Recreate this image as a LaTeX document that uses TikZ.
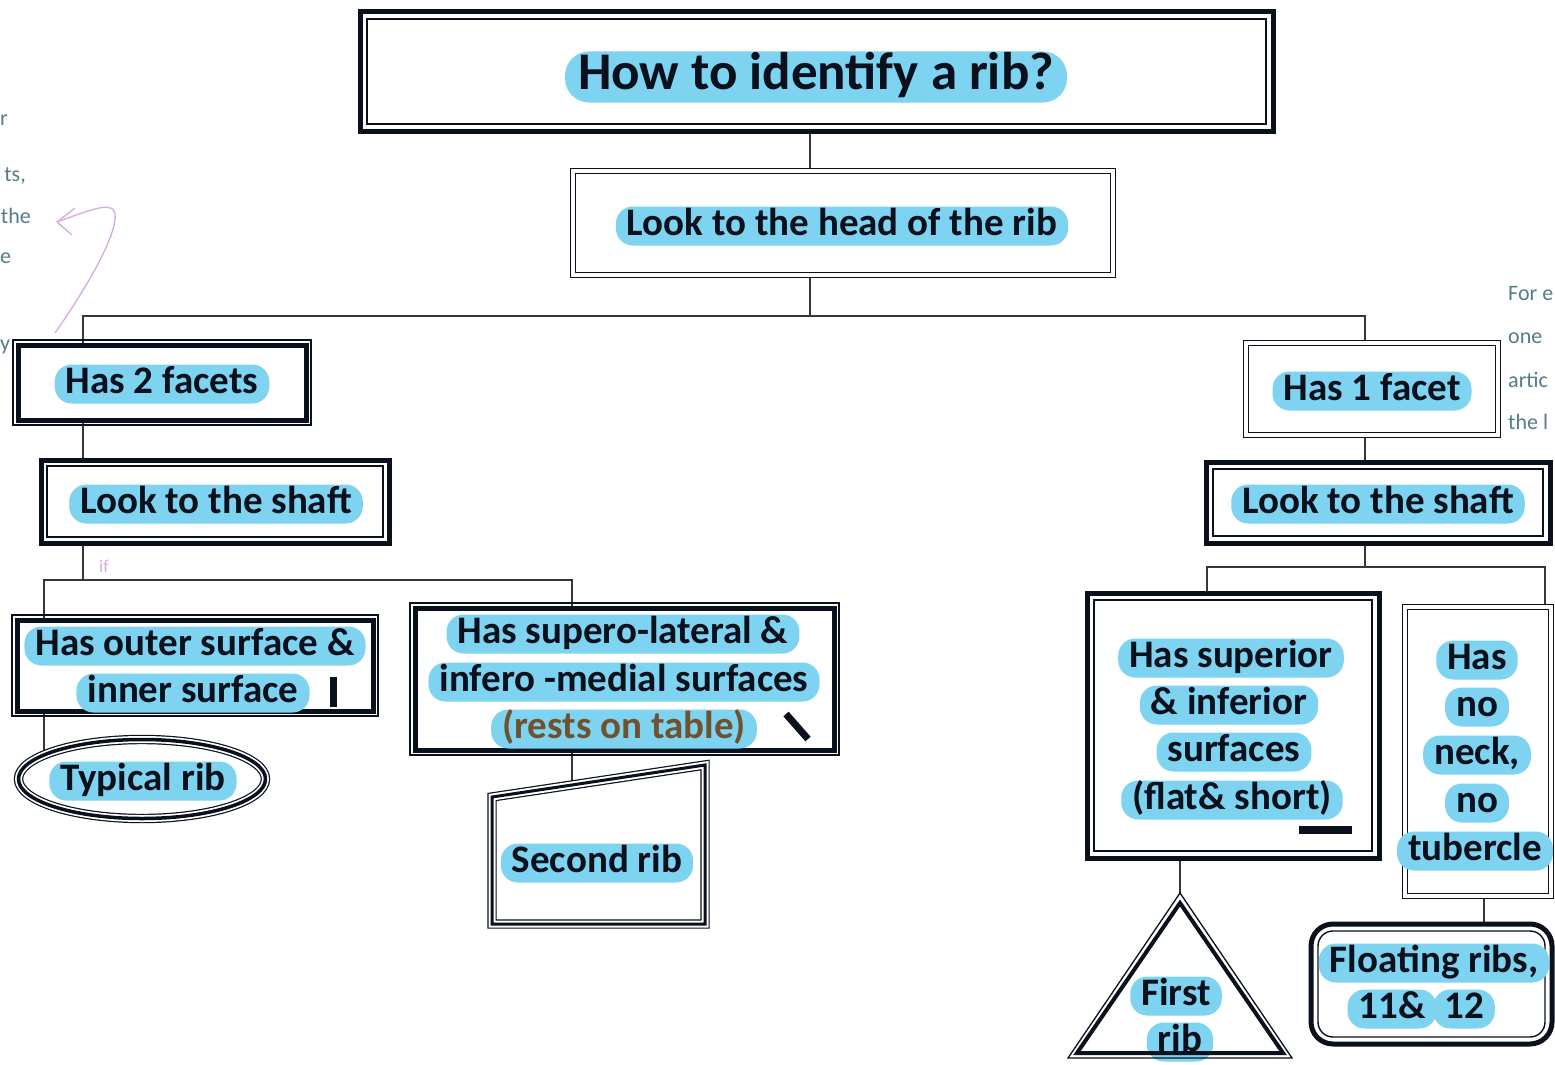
\documentclass[tikz,border=0pt]{standalone}
\usepackage{fontspec}
\setmainfont{Carlito}
\usetikzlibrary{shapes.geometric,fit,backgrounds}

\definecolor{hl}{RGB}{125,211,240}
\definecolor{ink}{RGB}{10,16,28}
\definecolor{handcol}{RGB}{85,125,135}
\definecolor{pinkish}{RGB}{214,170,226}
\definecolor{brownish}{RGB}{112,82,48}
\definecolor{conncol}{RGB}{55,55,55}

\newcommand\frameout[3]{\draw[#3] ([xshift=-#2pt,yshift=-#2pt]#1.south west) rectangle ([xshift=#2pt,yshift=#2pt]#1.north east);}
\newcommand\framein[3]{\draw[#3] ([xshift=#2pt,yshift=#2pt]#1.south west) rectangle ([xshift=-#2pt,yshift=-#2pt]#1.north east);}

\begin{document}
\begin{tikzpicture}[x=1pt,y=-1pt,
  thickbox/.style={draw=ink, line width=5pt, fill=white, inner sep=0pt, outer sep=0pt},
  dblbox/.style={draw=ink, line width=1.3pt, double=white, double distance=4pt, fill=white, inner sep=0pt, outer sep=0pt},
  thinline/.style={draw=ink, line width=1.4pt},
  pill/.style={fill=hl, rounded corners=17pt, inner xsep=11pt, inner ysep=1.5pt, text height=27pt, text depth=9pt, font=\bfseries\fontsize{39}{47}\selectfont, text=ink},
  titlepill/.style={pill, rounded corners=24pt, inner xsep=13pt, text height=36pt, text depth=12pt, font=\bfseries\fontsize{53}{60}\selectfont},
  handtxt/.style={text=handcol, font=\fontsize{22}{26}\selectfont, inner sep=0pt},
  conn/.style={draw=conncol, line width=1.5pt}]

\useasboundingbox (0,0) rectangle (1555,1065);
\clip (0,0) rectangle (1555,1065);

% column coordinates for connectors
\coordinate (cT) at (810,0);
\coordinate (cL) at (83,0);
\coordinate (cR) at (1365,0);
\coordinate (cLL) at (44,0);
\coordinate (cS) at (572,0);
\coordinate (cF) at (1180,0);
\coordinate (cSup) at (1207,0);
\coordinate (cNN) at (1545,0);
\coordinate (cFl) at (1484,0);
\coordinate (bus1) at (810,316);
\coordinate (bus2) at (83,580);
\coordinate (bus3) at (1365,567);
\coordinate (trapTop) at (572,785);
\coordinate (triApex) at (1180,893);

% ---------- boxes ----------
\node[thickbox, fit={(360,12)(1273,131)}] (title) {};
\framein{title}{7}{thinline}

\node[dblbox, fit={(573,171)(1113,275)}] (head) {};

\node[thickbox, fit={(18,345)(306,420)}] (f2) {};
\frameout{f2}{5}{thinline, line width=1.2pt}

\node[thickbox, fit={(41,460)(389,543)}] (shL) {};
\framein{shL}{6}{thinline}

\node[thickbox, fit={(17,620)(373,711)}] (outer) {};
\frameout{outer}{5}{thinline, line width=1.2pt}

\node[thickbox, fit={(415,608)(834,750)}] (supero) {};
\frameout{supero}{5}{thinline, line width=1.2pt}

\node[ellipse, draw=ink, line width=1.2pt, double=white, double distance=7pt, fill=white,
      minimum width=247pt, minimum height=79pt, inner sep=0pt] (typ) at (142,779) {};
\node[ellipse, draw=ink, line width=3.5pt, minimum width=247pt, minimum height=79pt, inner sep=0pt] (typmid) at (142,779) {};

\draw[ink, line width=1.2pt, double=white, double distance=7pt, fill=white, line join=miter]
  (492,797) -- (705,765) -- (705,924) -- (492,924) -- cycle;
\draw[ink, line width=3pt, line join=miter] (492,797) -- (705,765) -- (705,924) -- (492,924) -- cycle;

\node[dblbox, fit={(1246,343)(1498,435)}] (f1) {};

\node[thickbox, fit={(1206,462)(1550,543)}] (shR) {};
\framein{shR}{7}{thinline}

\node[thickbox, fit={(1087,593)(1379,858)}] (superior) {};
\framein{superior}{7}{thinline}

\node[dblbox, fit={(1405,607)(1551,896)}] (noneck) {};

\fill[white] (1180,893) -- (1292,1058) -- (1068,1058) -- cycle;

\node[thickbox, rounded corners=22pt, fit={(1311,924)(1552,1044)}] (float) {};
\framein{float}{7}{thinline, rounded corners=15pt}

% ---------- connectors ----------
\begin{scope}[on background layer]
  \fill[white] (0,0) rectangle (1555,1065);
  \draw[conn] (title.south -| cT) -- (head.north -| cT);
  \draw[conn] (head.south -| cT) -- (bus1);
  \draw[conn] (f2.north -| cL) |- (bus1) -| (f1.north -| cR);
  \draw[conn] (f2.south -| cL) -- (shL.north -| cL);
  \draw[conn] (f1.south -| cR) -- (shR.north -| cR);
  \draw[conn] (shL.south -| cL) -- (bus2);
  \draw[conn] (outer.north -| cLL) |- (bus2) -| (supero.north -| cS);
  \draw[conn] (outer.south -| cLL) -- (typ.center -| cLL);
  \draw[conn] (supero.south -| cS) -- (trapTop);
  \draw[conn] (shR.south -| cR) -- (bus3);
  \draw[conn] (superior.north -| cSup) |- (bus3) -| (noneck.north -| cNN);
  \draw[conn] (superior.south -| cF) -- (triApex);
  \draw[conn] (noneck.south -| cFl) -- (float.north -| cFl);
\end{scope}

% ---------- texts ----------
\node[titlepill] (tTitle) at (816,77) {How to identify a rib?};
\node[pill] (tHead) at (842,226) {Look to the head of the rib};
\node[pill] (tF2) at (162,384) {Has 2 facets};
\node[pill] (tShL) at (216,504) {Look to the shaft};
\node[pill] (tOut1) at (195,646) {Has outer surface \&};
\node[pill] (tOut2) at (193,693) {inner surface};
\node[pill] (tTyp) at (143,781) {Typical rib};
\node[pill] (tSup1) at (623,634) {Has supero-lateral \&};
\node[pill] (tSup2) at (624,682) {infero -medial surfaces};
\node[pill, text=brownish] (tSup3) at (624,729) {(rests on table)};
\node[pill] (tSec) at (597,863) {Second rib};
\node[pill] (tF1) at (1372,391) {Has 1 facet};
\node[pill] (tShR) at (1378,504) {Look to the shaft};
\node[pill] (tSi1) at (1231,658) {Has superior};
\node[pill] (tSi2) at (1229,705) {\& inferior};
\node[pill] (tSi3) at (1234,752) {surfaces};
\node[pill] (tSi4) at (1232,800) {(flat\& short)};
\node[pill] (tNn1) at (1477,660) {Has};
\node[pill] (tNn2) at (1477,707) {no};
\node[pill] (tNn3) at (1477,755) {neck,};
\node[pill] (tNn4) at (1477,803) {no};
\node[pill] (tNn5) at (1475,851) {tubercle};
\node[pill] (tFirst) at (1176,996) {First};
\node[pill] (tRib) at (1180,1042) {rib};
\node[pill] (tFl1) at (1434,963) {Floating ribs,};
\node[pill] (tFl2) at (1392,1009) {11\&};
\node[pill] (tFl3) at (1464,1009) {12};

% triangle strokes over text
\draw[ink, line width=1.3pt, line join=miter] (1180,893) -- (1292,1058) -- (1068,1058) -- cycle;
\draw[ink, line width=4pt, line join=miter] (1180,903) -- (1283,1053) -- (1077,1053) -- cycle;

% black marks
\draw[ink, line width=7pt] (333,677) -- (333,707);
\draw[ink, line width=7pt] (786,714) -- (808,739);
\draw[ink, line width=8pt] (1299,830) -- (1352,830);

% ---------- margin handwriting ----------
\node[handtxt, anchor=west] (hw1) at (0,120) {r};
\node[handtxt, anchor=east] (hw2) at (26,176) {ts,};
\node[handtxt, anchor=east] (hw3) at (31,216) {the};
\node[handtxt, anchor=west] (hw4) at (0,258) {e};
\node[handtxt, anchor=west] (hw5) at (0,347) {y};
\node[handtxt, anchor=west] (hw6) at (1508,294) {For e};
\node[handtxt, anchor=west] (hw7) at (1508,338) {one};
\node[handtxt, anchor=west] (hw8) at (1508,380) {artic};
\node[handtxt, anchor=west] (hw9) at (1508,422) {the l};
\node[text=pinkish, font=\fontsize{18}{20}\selectfont, inner sep=0pt] (hwif) at (104,566) {if};

\draw[pinkish, line width=1.3pt] (55,333) .. controls (85,290) and (118,235) .. (115,213)
  .. controls (112,200) and (85,212) .. (57,222);
\draw[pinkish, line width=1.3pt] (75,208) -- (57,222) -- (72,235);

\end{tikzpicture}
\end{document}
